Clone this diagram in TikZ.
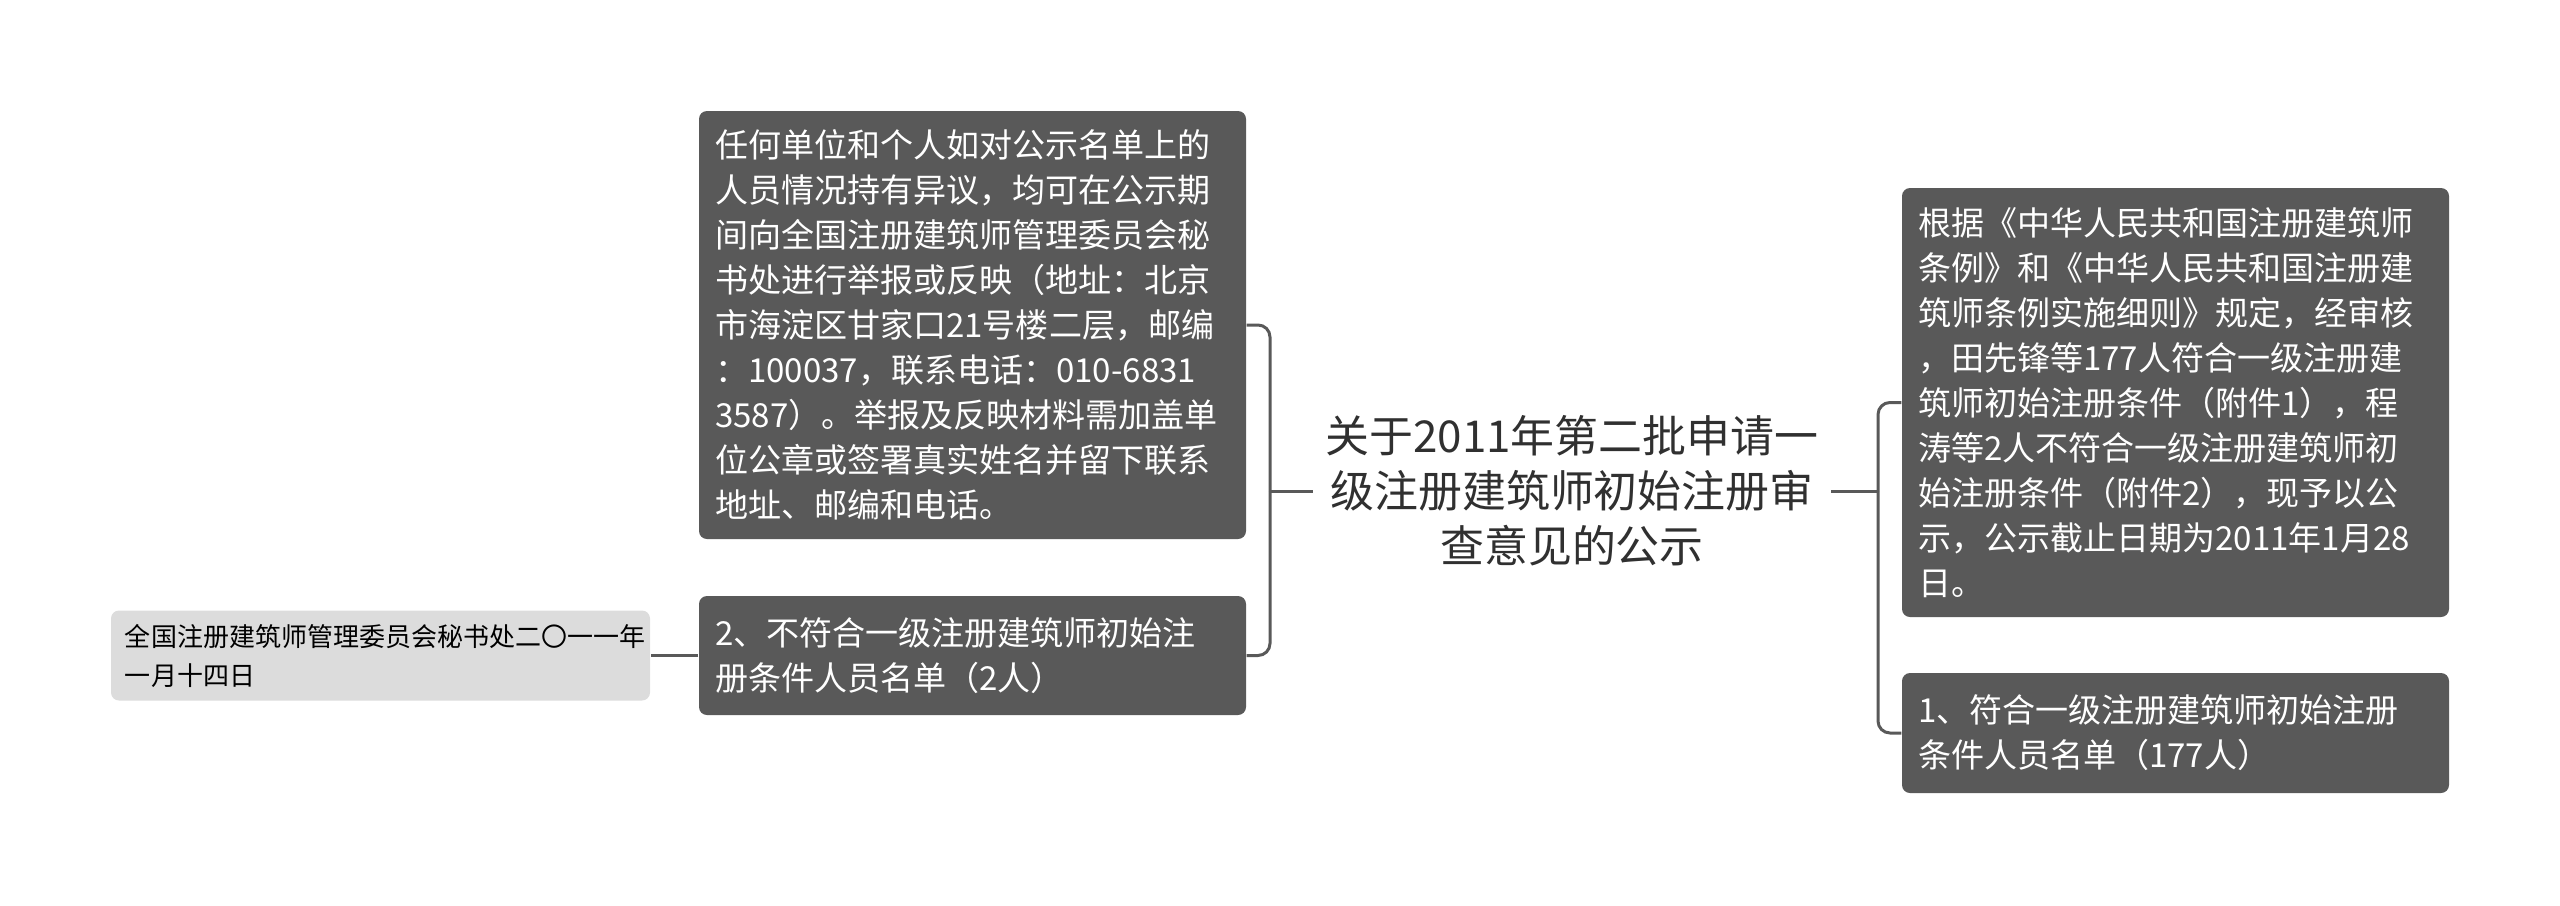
\documentclass[tikz,border=0pt]{standalone}
\usepackage{fontspec}
\setmainfont{Noto Sans CJK SC}
\usepackage{tikz}
\usetikzlibrary{arrows}

\begin{document}
\begin{tikzpicture}

	\definecolor{boxgray}{RGB}{89,89,89}
	\definecolor{notegray}{RGB}{220,220,220}
	\definecolor{titlegray}{RGB}{48,48,48}

	\useasboundingbox (0,0) rectangle (25.6,9.05);

	\tikzstyle{edge} = [draw,-,boxgray,line width=0.85pt]

	\tikzset{topic/.style = {shape=rectangle,fill=boxgray,text=white,rounded corners=0.08cm,inner xsep=0.16cm,inner ysep=0pt,text width=5.15cm,align=left,font=\fontsize{9.4}{12.8}\selectfont}}
	\tikzset{note/.style = {shape=rectangle,fill=notegray,text=black,rounded corners=0.08cm,inner xsep=0.14cm,inner ysep=0pt,text width=5.11cm,align=left,font=\fontsize{7.4}{11.1}\selectfont}}

	\node[titlegray,align=center,inner xsep=0.12cm,font=\fontsize{12.5}{15.6}\selectfont] (title) at (15.72,4.14) {关于2011年第二批申请一\\级注册建筑师初始注册审\\查意见的公示};

	% left side
	\node[topic,minimum height=4.28cm] (objection) at (9.725,5.80) {任何单位和个人如对公示名单上的\\人员情况持有异议，均可在公示期\\间向全国注册建筑师管理委员会秘\\书处进行举报或反映（地址：北京\\市海淀区甘家口21号楼二层，邮编\\：100037，联系电话：010-6831\\3587）。举报及反映材料需加盖单\\位公章或签署真实姓名并留下联系\\地址、邮编和电话。};
	\node[topic,minimum height=1.19cm] (failed) at (9.725,2.495) {2、不符合一级注册建筑师初始注\\册条件人员名单（2人）};
	\node[note,minimum height=0.90cm] (date) at (3.805,2.495) {全国注册建筑师管理委员会秘书处二〇一一年\\一月十四日};

	% right side
	\node[topic,minimum height=4.29cm] (basis) at (21.755,5.025) {根据《中华人民共和国注册建筑师\\条例》和《中华人民共和国注册建\\筑师条例实施细则》规定，经审核\\，田先锋等177人符合一级注册建\\筑师初始注册条件（附件1），程\\涛等2人不符合一级注册建筑师初\\始注册条件（附件2），现予以公\\示，公示截止日期为2011年1月28\\日。};
	\node[topic,minimum height=1.20cm] (passed) at (21.755,1.72) {1、符合一级注册建筑师初始注册\\条件人员名单（177人）};

	\coordinate (lj) at (12.70,4.14);
	\coordinate (rj) at (18.78,4.14);

	\draw[edge] (title.west) to (lj);
	\draw[edge,rounded corners=0.12cm] (lj) |- (objection.east);
	\draw[edge,rounded corners=0.12cm] (lj) |- (failed.east);
	\draw[edge] (title.east) to (rj);
	\draw[edge,rounded corners=0.12cm] (rj) |- (basis.west);
	\draw[edge,rounded corners=0.12cm] (rj) |- (passed.west);
	\draw[edge] (failed.west) to (date.east);
\end{tikzpicture}
\end{document}
